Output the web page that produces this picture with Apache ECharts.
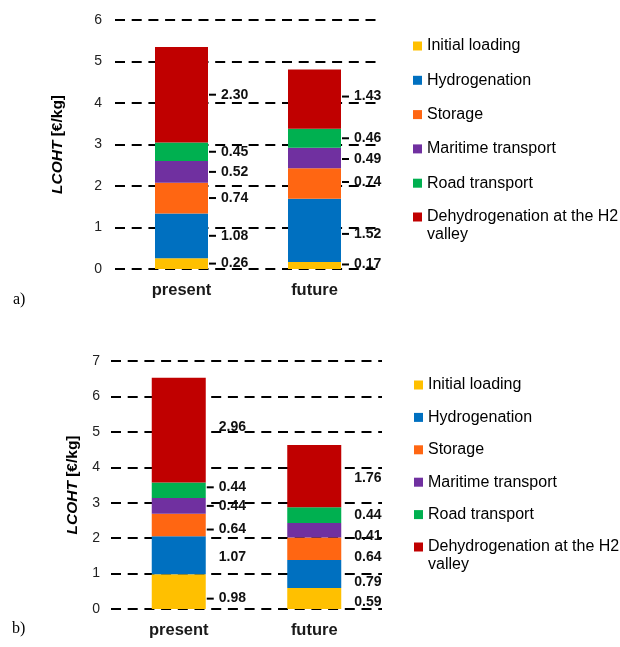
<!DOCTYPE html>
<html>
<head>
<meta charset="utf-8">
<script src="https://cdn.jsdelivr.net/npm/echarts@6/dist/echarts.min.js"></script>
<style>
  html, body { margin: 0; padding: 0; background: #fff; }
  #chart { width: 620px; height: 647px; }
</style>
</head>
<body>
<div id="chart"></div>
<script>
// Levelized cost of hydrogen transport (LCOHT), two scenarios, stacked by cost component.
const categories = ['present', 'future'];
const componentNames = [
  'Initial loading',
  'Hydrogenation',
  'Storage',
  'Maritime transport',
  'Road transport',
  'Dehydrogenation at the H2 valley'
];

// Panel a)
const aInitialLoading = [0.26, 0.17];
const aHydrogenation = [1.08, 1.52];
const aStorage = [0.74, 0.74];
const aMaritime = [0.52, 0.49];
const aRoad = [0.45, 0.46];
const aDehydrogenation = [2.30, 1.43];
const aAxisMax = 6;

// Panel b)
const bInitialLoading = [0.98, 0.59];
const bHydrogenation = [1.07, 0.79];
const bStorage = [0.64, 0.64];
const bMaritime = [0.44, 0.41];
const bRoad = [0.44, 0.44];
const bDehydrogenation = [2.96, 1.76];
const bAxisMax = 7;

const colors = ['#FFC000', '#0070C0', '#FF6612', '#7030A0', '#00B050', '#C00000'];
const FONT = '"Liberation Sans", Arial, Helvetica, sans-serif';

// Label placement tweaks (vertical nudge in px per [component][category]) and leader flags
const aNudge = [[0, -1], [0, 3.5], [0, -1.5], [0, 1], [0, 0], [0, -2.5]];
const aLeader = [[1, 1], [1, 1], [1, 1], [1, 1], [1, 1], [1, 1]];
const bNudge = [[7, 3.5], [1.5, 8], [4.5, 8.5], [0, 5.5], [-3, 0.5], [-3, 2]];
const bLeader = [[1, 0], [0, 0], [1, 0], [1, 0], [1, 0], [0, 0]];

const labelRich = {
  d: { width: 7, height: 2, backgroundColor: '#000' },
  e: { width: 7, height: 2 },
  v: { fontSize: 14, fontWeight: 'bold', color: '#111', fontFamily: FONT, padding: [0, 0, 0, 5] }
};

function buildSeries(panelValues, gridIdx, nudge, leader, barWidth) {
  return panelValues.map((vals, s) => ({
    name: componentNames[s],
    type: 'bar',
    stack: 'total' + gridIdx,
    xAxisIndex: gridIdx,
    yAxisIndex: gridIdx,
    barWidth: barWidth,
    itemStyle: { color: colors[s] },
    data: vals.map((v, c) => ({
      value: v,
      label: {
        show: true,
        position: 'right',
        distance: 1,
        offset: [0, nudge[s][c]],
        rich: labelRich,
        formatter: (leader[s][c] ? '{d| }' : '{e| }') + '{v|' + v.toFixed(2) + '}'
      }
    }))
  }));
}

const panelA = [aInitialLoading, aHydrogenation, aStorage, aMaritime, aRoad, aDehydrogenation];
const panelB = [bInitialLoading, bHydrogenation, bStorage, bMaritime, bRoad, bDehydrogenation];

function yAxis(gridIdx, max, nameGap, margin) {
  return {
    type: 'value',
    gridIndex: gridIdx,
    min: 0,
    max: max,
    interval: 1,
    name: '{i|LCOHT} {n|[€/kg]}',
    nameLocation: 'middle',
    nameGap: nameGap,
    nameTextStyle: {
      fontSize: 15.5,
      fontFamily: FONT,
      color: '#000',
      rich: {
        i: { fontSize: 15.5, fontStyle: 'italic', fontWeight: 'bold', fontFamily: FONT, color: '#000' },
        n: { fontSize: 15.5, fontWeight: 'bold', fontFamily: FONT, color: '#000' }
      }
    },
    axisLine: { show: false },
    axisTick: { show: false },
    axisLabel: { fontSize: 14, color: '#222', fontFamily: FONT, margin: margin },
    splitLine: { show: true, lineStyle: { color: '#000', width: 2, type: [10, 6.7] } }
  };
}

function xAxis(gridIdx) {
  return {
    type: 'category',
    gridIndex: gridIdx,
    data: categories,
    axisLine: { show: false },
    axisTick: { show: false },
    axisLabel: { fontSize: 16.5, fontWeight: 'bold', color: '#1a1a1a', fontFamily: FONT, margin: 13 }
  };
}

// The two-line entry gets a blank leading line so its first line sits level with the swatch.
function legend(names, left, top, gap) {
  const last = componentNames[componentNames.length - 1];
  return {
    orient: 'vertical',
    left: left,
    top: top,
    itemWidth: 9,
    itemHeight: 9,
    itemGap: gap,
    icon: 'rect',
    selectedMode: false,
    padding: 0,
    textStyle: { fontSize: 16, color: '#000', fontFamily: FONT, lineHeight: 18 },
    formatter: n => n === last ? '\n' + n.replace(' valley', '\nvalley') : n,
    data: names
  };
}

const chart = echarts.init(document.getElementById('chart'), null, { renderer: 'canvas' });
chart.setOption({
  animation: false,
  grid: [
    { left: 115, top: 20, width: 266, height: 249 },
    { left: 111, top: 361, width: 271, height: 248 }
  ],
  xAxis: [xAxis(0), xAxis(1)],
  yAxis: [yAxis(0, aAxisMax, 49, 13), yAxis(1, bAxisMax, 30, 11)],
  legend: [
    legend(componentNames.slice(0, 5), 413, 37, 16.3),
    legend(componentNames.slice(5), 413, 190, 0),
    legend(componentNames.slice(0, 5), 414, 376, 14.4),
    legend(componentNames.slice(5), 414, 520, 0)
  ],
  graphic: [
    { type: 'text', left: 13, top: 292, style: { text: 'a)', fontSize: 16, fontFamily: '"Liberation Serif", "Times New Roman", serif', fill: '#000' } },
    { type: 'text', left: 12, top: 621, style: { text: 'b)', fontSize: 16, fontFamily: '"Liberation Serif", "Times New Roman", serif', fill: '#000' } }
  ],
  series: buildSeries(panelA, 0, aNudge, aLeader, 53).concat(buildSeries(panelB, 1, bNudge, bLeader, 54))
});
</script>
</body>
</html>
